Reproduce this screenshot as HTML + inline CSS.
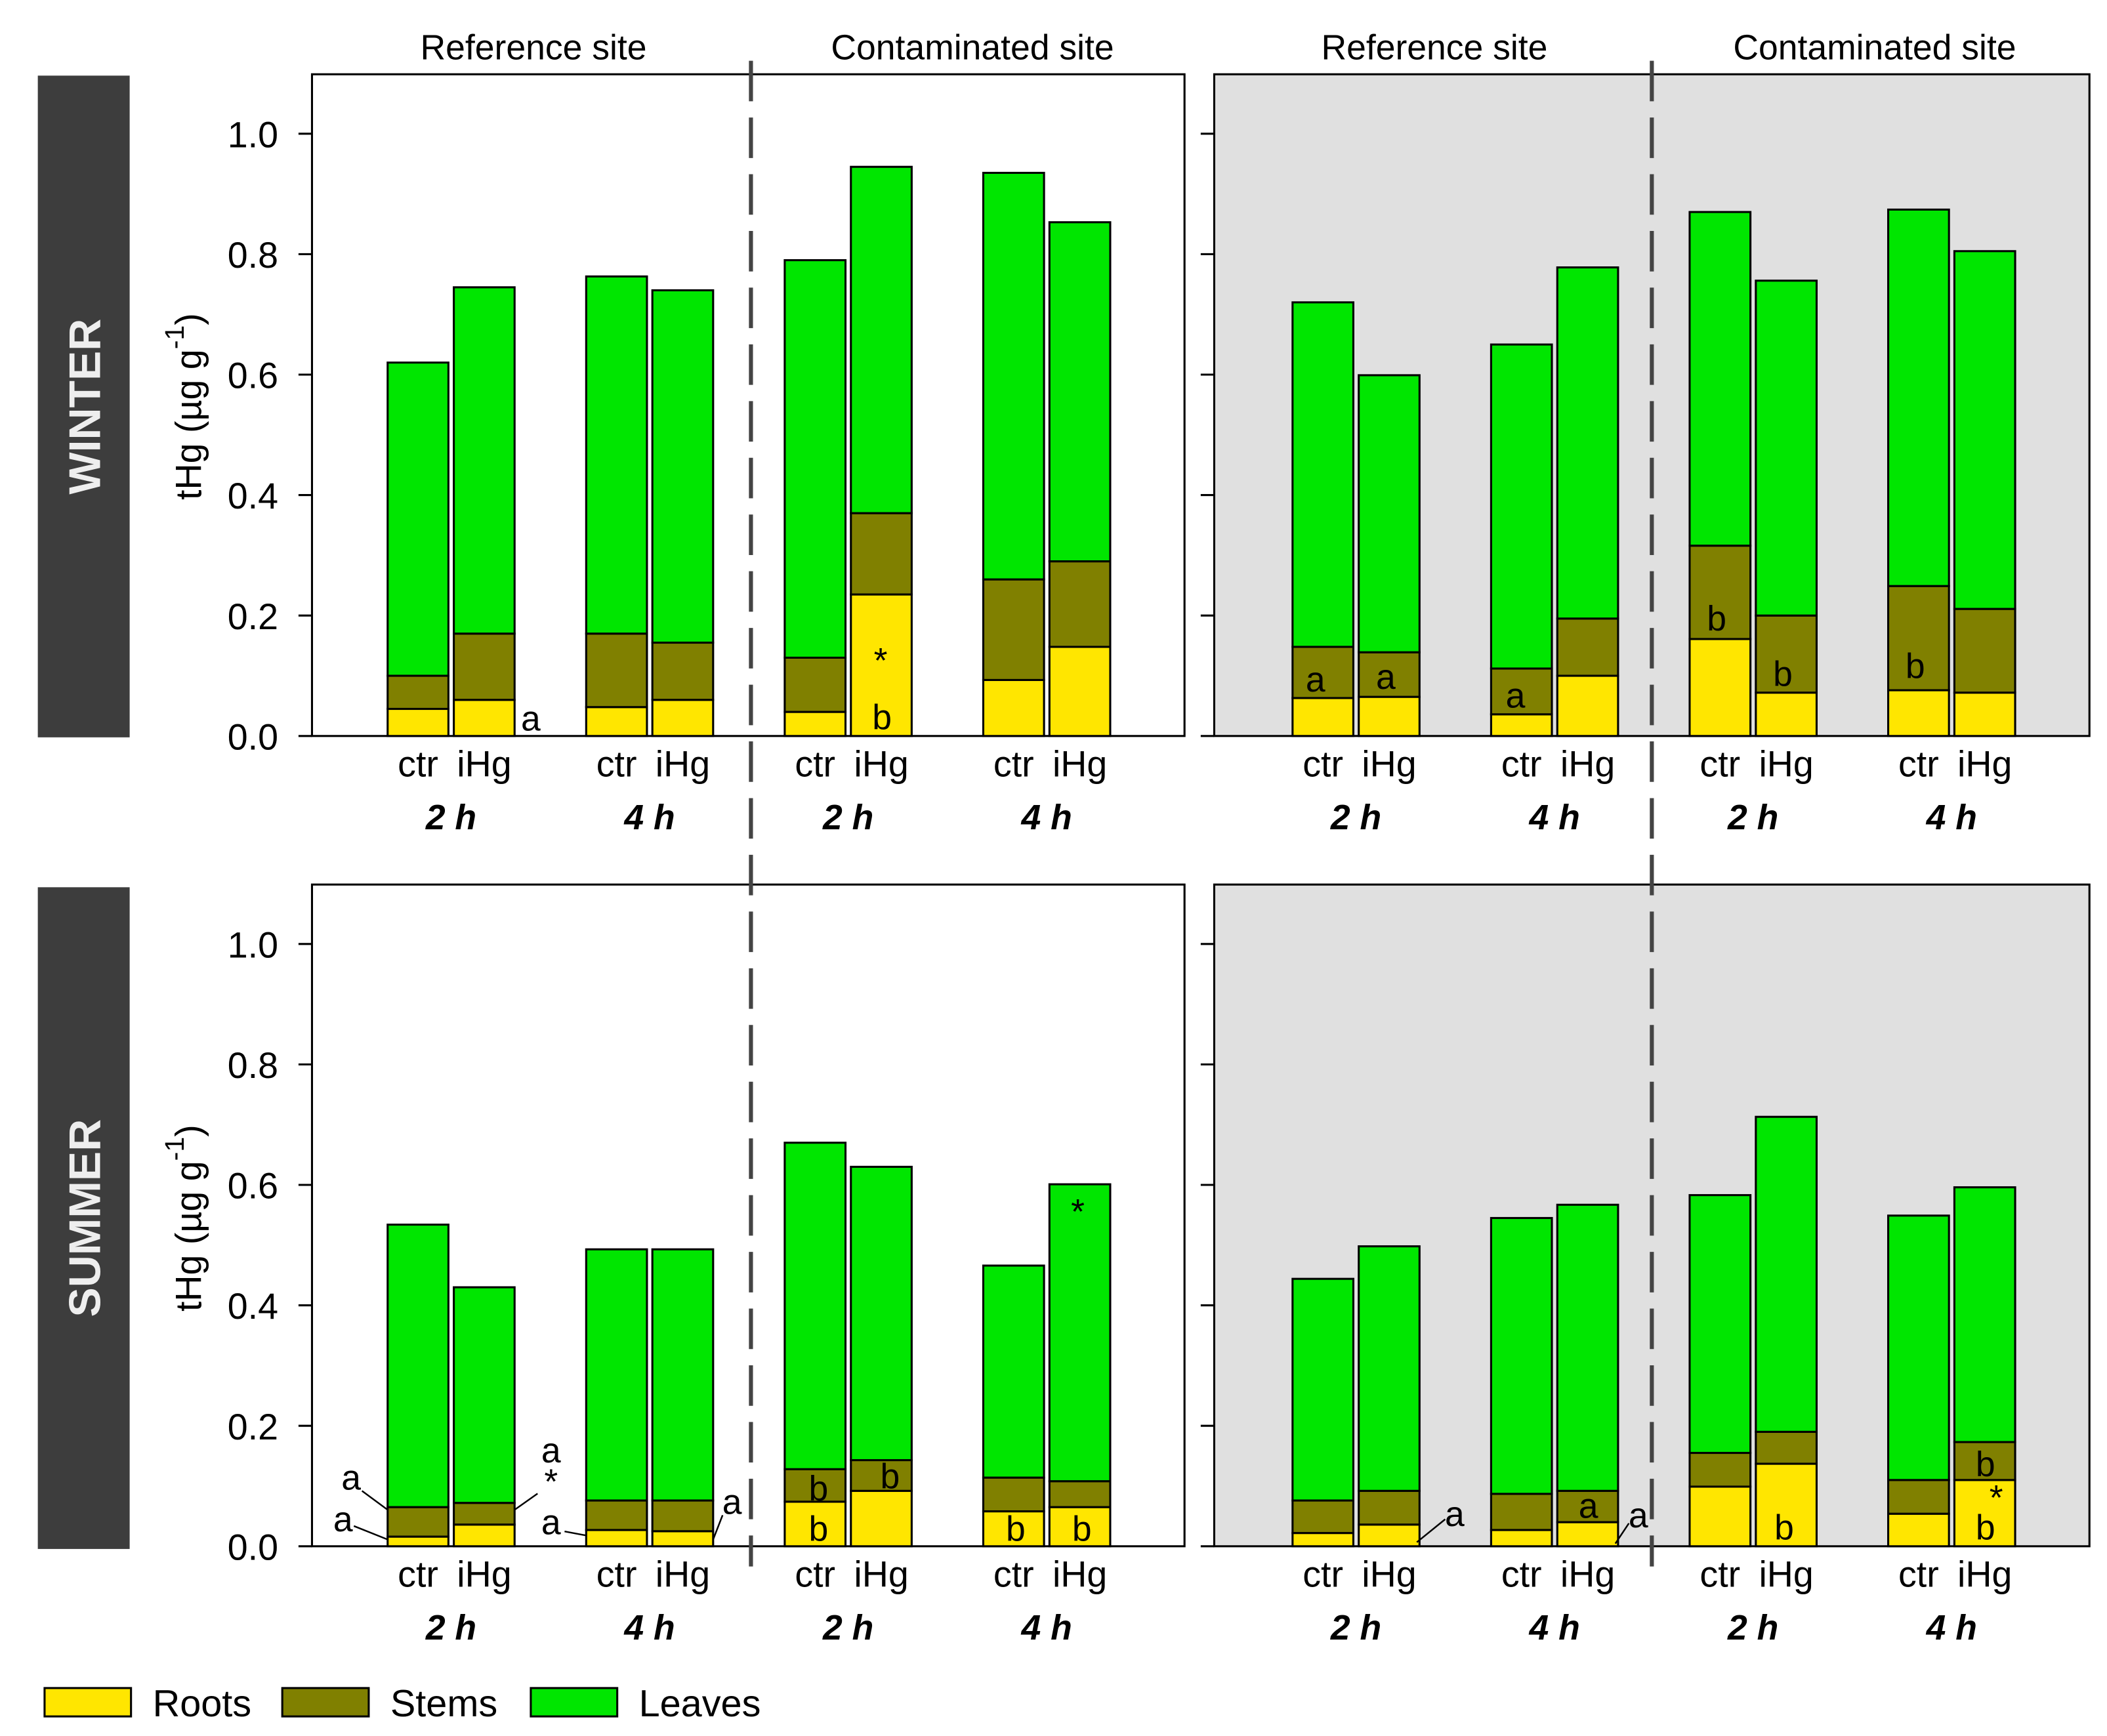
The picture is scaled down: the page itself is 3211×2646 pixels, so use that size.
<!DOCTYPE html>
<html><head><meta charset="utf-8"><style>
html,body{margin:0;padding:0;background:#fff}
svg{display:block}
text{font-family:"Liberation Sans",sans-serif;fill:#000}
</style></head><body>
<svg id="chart" width="3211" height="2646" viewBox="0 0 1560 1285.5" xmlns="http://www.w3.org/2000/svg">
<g id="frames"></g>
<g id="bars"></g>
<g id="ann"></g>
</svg>
<script>
// ---- data (µg g-1 per organ segment) ----
const groups = ["ctr","iHg","ctr","iHg","ctr","iHg","ctr","iHg"];
const times = ["2 h","4 h","2 h","4 h"];
const yTicks = [0,0.2,0.4,0.6,0.8,1.0];
const tickLabels = ["0.0","0.2","0.4","0.6","0.8","1.0"];
// cumulative tops: roots, roots+stems, total
const winterLeftRoots  = [0.045,0.06,0.048,0.06,0.04,0.235,0.093,0.148];
const winterLeftStems  = [0.10,0.17,0.17,0.155,0.13,0.37,0.26,0.29];
const winterLeftTotal  = [0.62,0.745,0.763,0.74,0.79,0.945,0.935,0.853];
const winterRightRoots = [0.063,0.065,0.036,0.10,0.161,0.072,0.076,0.072];
const winterRightStems = [0.148,0.139,0.112,0.195,0.316,0.20,0.249,0.211];
const winterRightTotal = [0.72,0.599,0.65,0.778,0.87,0.756,0.874,0.805];
const summerLeftRoots  = [0.016,0.036,0.027,0.025,0.074,0.092,0.058,0.065];
const summerLeftStems  = [0.065,0.072,0.076,0.076,0.128,0.143,0.114,0.108];
const summerLeftTotal  = [0.534,0.43,0.493,0.493,0.67,0.63,0.466,0.601];
const summerRightRoots = [0.022,0.036,0.027,0.04,0.099,0.137,0.054,0.11];
const summerRightStems = [0.076,0.092,0.087,0.092,0.155,0.19,0.11,0.173];
const summerRightTotal = [0.444,0.498,0.545,0.567,0.583,0.713,0.549,0.596];

const NS="http://www.w3.org/2000/svg";
function mk(parent,tag,attrs,txt){const e=document.createElementNS(NS,tag);for(const k in attrs)e.setAttribute(k,attrs[k]);if(txt!==undefined)e.textContent=txt;parent.appendChild(e);return e;}
const F=document.getElementById('frames'),B=document.getElementById('bars'),A=document.getElementById('ann');
const C={roots:"#ffe600",stems:"#808000",leaves:"#00e600"};
const panels=[
 {x0:231,x1:877,top:55,base:545,gray:false,r:winterLeftRoots,s:winterLeftStems,t:winterLeftTotal,name:"winter-left"},
 {x0:899,x1:1547,top:55,base:545,gray:true,r:winterRightRoots,s:winterRightStems,t:winterRightTotal,name:"winter-right"},
 {x0:231,x1:877,top:655,base:1145,gray:false,r:summerLeftRoots,s:summerLeftStems,t:summerLeftTotal,name:"summer-left"},
 {x0:899,x1:1547,top:655,base:1145,gray:true,r:summerRightRoots,s:summerRightStems,t:summerRightTotal,name:"summer-right"}];
const barOff=[56,105,203,252,350,399,497,546];
const BW=45, SCALE=446;
panels.forEach((p,pi)=>{
  const fr=mk(F,'rect',{x:p.x0,y:p.top,width:p.x1-p.x0,height:p.base-p.top,fill:p.gray?"#e0e0e0":"#fff",stroke:"#000","stroke-width":1.5});
  
  
  const y=v=>p.base-v*SCALE;
  yTicks.forEach((v,i)=>{
    const tk=mk(F,'line',{x1:p.x0-10,x2:p.x0,y1:y(v),y2:y(v),stroke:"#000","stroke-width":1.5});
    
    
    if(!p.gray){
      const tl=mk(F,'text',{x:206,y:y(v)+10,"text-anchor":"end","font-size":27},tickLabels[i]);
      
      
    }
  });
  groups.forEach((g,i)=>{
    const bx=p.x0+barOff[i]+(p.gray?2:0);
    const segs=[[0,p.r[i],C.roots,'roots'],[p.r[i],p.s[i],C.stems,'stems'],[p.s[i],p.t[i],C.leaves,'leaves']];
    segs.forEach(sg=>{
      const r=mk(B,'rect',{x:bx,y:y(sg[1]),width:BW,height:(sg[1]-sg[0])*SCALE,fill:sg[2],stroke:"#000","stroke-width":1.5});
      
      
    });
    const lb=mk(F,'text',{x:bx+BW/2,y:p.base+30,"text-anchor":"middle","font-size":27},g);
    
    
  });
  times.forEach((t,i)=>{
    const cx=p.x0+barOff[i*2]+BW+2+(p.gray?2:0);
    const tl=mk(F,'text',{x:cx,y:p.base+69,"text-anchor":"middle","font-size":26,"font-weight":"bold","font-style":"italic"},t);
    
    
  });
});
// dashed separators
[556,1223].forEach(x=>{
  const l=mk(F,'line',{x1:x,x2:x,y1:45,y2:1160,stroke:"#444","stroke-width":3,"stroke-dasharray":"30 12"});
  
  
});
// annotations
const ann=[["a",393,541],["*",652,498],["b",653,540],["a",974,512],["a",1026,510],["a",1122,524],["b",1271,467],["b",1320,508],["b",1418,502],
["a",260,1103],["a",254,1134],["a",408,1083],["*",408,1106],["a",408,1136],["a",542,1121],["b",606,1111],["b",606,1141],["b",659,1102],["b",752,1141],["b",801,1141],["*",798,906],
["a",1077,1130],["a",1176,1124],["a",1213,1131],["b",1321,1140],["b",1470,1093],["*",1478,1118],["b",1470,1140]];
ann.forEach(a=>{const t=mk(A,'text',{x:a[1],y:a[2],"text-anchor":"middle","font-size":26},a[0]);
 
 });
const leaders=[[268,1104,287,1118],[262,1130,287,1140],[398,1106,381,1118],[418,1134,434,1137],[535,1122,528,1140],[1070,1125,1049,1142],[1206,1128,1196,1143]];
leaders.forEach(l=>{const e=mk(A,'line',{x1:l[0],y1:l[1],x2:l[2],y2:l[3],stroke:"#000","stroke-width":1.2});
 
 });
</script>
<script>
(function(){
const NS="http://www.w3.org/2000/svg";const svg=document.getElementById('chart');
function mk(tag,attrs,txt){const e=document.createElementNS(NS,tag);for(const k in attrs)e.setAttribute(k,attrs[k]);if(txt!==undefined)e.textContent=txt;svg.appendChild(e);return e;}
[[56,"WINTER"],[657,"SUMMER"]].forEach(s=>{
 const r=mk('rect',{x:28,y:s[0],width:68,height:490,fill:"#3d3d3d"});
 
 
 const t=mk('text',{x:0,y:0,"text-anchor":"middle","font-size":33,"font-weight":"bold",transform:`translate(74,${s[0]+245}) rotate(-90)`},s[1]);
 
 
 t.style.fill="#eee";
 const y=mk('text',{x:0,y:0,"text-anchor":"middle","font-size":27,transform:`translate(149,${s[0]+245}) rotate(-90)`});
 
 
 y.innerHTML='tHg (µg g<tspan dy="-13" font-size="20">-1</tspan><tspan dy="13">)</tspan>';
});
[["Reference site",395],["Contaminated site",720],["Reference site",1062],["Contaminated site",1388]].forEach(s=>{
 const t=mk('text',{x:s[1],y:44,"text-anchor":"middle","font-size":26},s[0]);
 
 
});
[["Roots","#ffe600",33],["Stems","#808000",209],["Leaves","#00e600",393]].forEach(l=>{
 const r=mk('rect',{x:l[2],y:1250,width:64,height:21,fill:l[1],stroke:"#000","stroke-width":1.5});
 
 
 const t=mk('text',{x:l[2]+80,y:1271,"font-size":28},l[0]);
 
 
});
})();
</script>
</body></html>
